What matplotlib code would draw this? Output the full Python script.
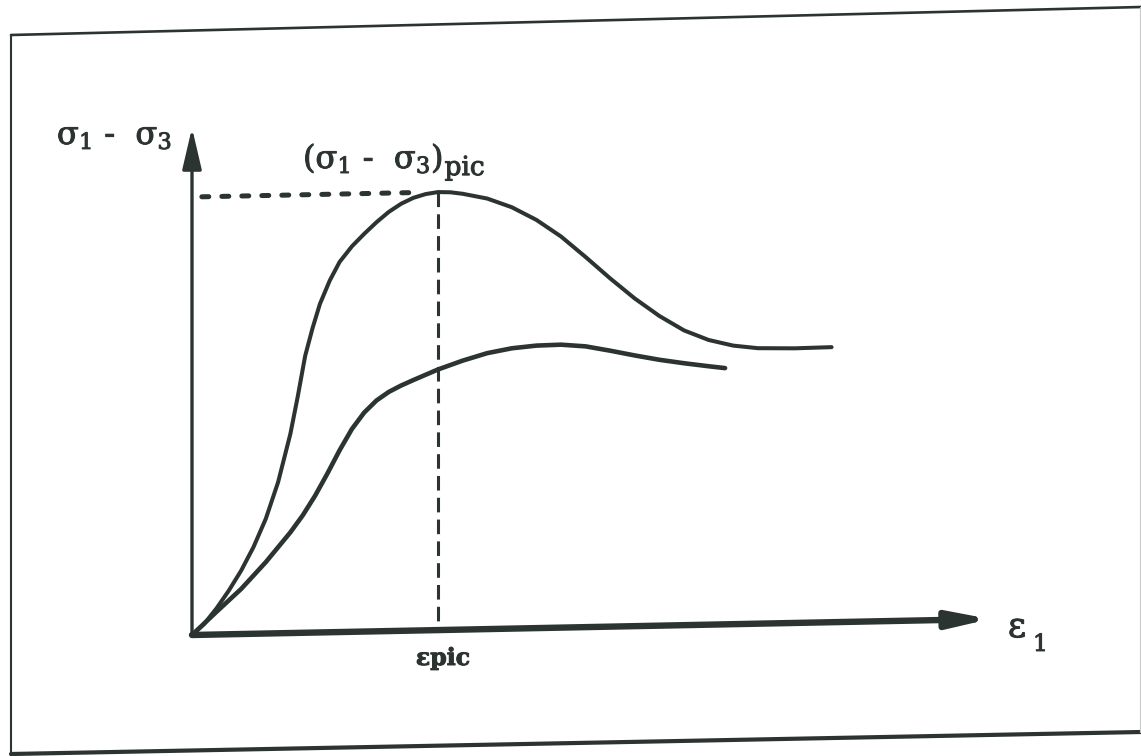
import numpy as np
import matplotlib
matplotlib.use("Agg")
import matplotlib.pyplot as plt
import matplotlib.patheffects as pe
from matplotlib.transforms import Affine2D
from matplotlib.lines import Line2D

plt.rcParams["font.family"] = ["DejaVu Serif"]
plt.rcParams["mathtext.fontset"] = "dejavuserif"
plt.rcParams["lines.scale_dashes"] = False

# Normalised axial strain (eps1 / eps_pic) and deviator stress (q / q_pic)
# Dense sample: marked peak, then softening to a residual plateau
strain_dense = [0.00, 0.05, 0.10, 0.15, 0.20, 0.25, 0.30, 0.35, 0.40, 0.43,
                0.46, 0.49, 0.52, 0.56, 0.60, 0.65, 0.70, 0.75, 0.80, 0.85,
                0.90, 0.95, 1.00, 1.05, 1.10, 1.20, 1.30, 1.40, 1.50, 1.60,
                1.70, 1.80, 1.90, 2.00, 2.10, 2.20, 2.30, 2.45, 2.60]
stress_dense = [0.000, 0.025, 0.060, 0.100, 0.145, 0.198, 0.262, 0.345, 0.455, 0.540,
                0.632, 0.695, 0.750, 0.803, 0.845, 0.880, 0.908, 0.934, 0.957, 0.975,
                0.988, 0.996, 1.000, 0.999, 0.995, 0.983, 0.962, 0.932, 0.893, 0.845,
                0.795, 0.748, 0.707, 0.673, 0.650, 0.636, 0.629, 0.627, 0.628]

# Loose sample: gradual hardening, no marked peak
strain_loose = [0.00, 0.10, 0.20, 0.30, 0.40, 0.45, 0.50, 0.55, 0.60, 0.65,
                0.70, 0.75, 0.80, 0.85, 0.90, 1.00, 1.10, 1.20, 1.30, 1.40,
                1.50, 1.60, 1.70, 1.80, 1.90, 2.00, 2.10, 2.167]
stress_loose = [0.000, 0.052, 0.103, 0.163, 0.230, 0.268, 0.312, 0.362, 0.415, 0.463,
                0.500, 0.527, 0.546, 0.560, 0.572, 0.595, 0.614, 0.630, 0.640, 0.645,
                0.646, 0.641, 0.630, 0.618, 0.607, 0.598, 0.590, 0.585]

eps_pic = 1.0
q_pic = 1.0
eps_axis_end = 3.244
q_axis_end = 1.158

INK = "#2c3431"
W, H = 1141, 756
DPI = 100

fig = plt.figure(figsize=(W / DPI, H / DPI), dpi=DPI)
fig.patch.set_facecolor("white")

# scale of the drawing: pixels per unit of normalised strain / stress
ox, oy = 192, 635
sx, sy = 246.0, 438.0
ax = fig.add_axes([0, 0, 1, 1])
ax.set_xlim(-ox / sx, (W - ox) / sx)
ax.set_ylim(-(H - oy) / sy, oy / sy)
ax.axis("off")

# the sheet is slightly skewed: horizontals rise towards the right
skew = Affine2D().skew(0, np.arctan(0.02 * sx / sy)) + ax.transData

# axes with arrow heads
ax.annotate("", xy=(0, q_axis_end), xytext=(0, 0), xycoords=skew, textcoords=skew,
            arrowprops=dict(arrowstyle="-|>,head_length=1.8,head_width=0.42",
                            mutation_scale=14, lw=2.4, color=INK,
                            shrinkA=0, shrinkB=0))
ax.annotate("", xy=(eps_axis_end, 0), xytext=(0, 0), xycoords=skew, textcoords=skew,
            arrowprops=dict(arrowstyle="-|>,head_length=1.7,head_width=0.36",
                            mutation_scale=14, lw=4.6, color=INK,
                            shrinkA=0, shrinkB=0))

# stress-strain curves
ax.plot(strain_dense, stress_dense, transform=skew, color=INK, lw=2.9,
        solid_capstyle="round", solid_joinstyle="round")
ax.plot(strain_loose, stress_loose, transform=skew, color=INK, lw=3.3,
        solid_capstyle="round", solid_joinstyle="round")

# peak construction lines
ax.plot([0.04, eps_pic * 0.92], [q_pic, q_pic], transform=skew, color=INK, lw=3.6,
        dashes=(5.0, 9.4), dash_capstyle="round")
ax.plot([eps_pic, eps_pic], [q_pic, 0], transform=skew, color=INK, lw=2.2,
        dashes=(10.5, 5.2), dash_capstyle="butt")


# text
def px(x, y):
    return x / W, 1 - y / H


heavy = [pe.withStroke(linewidth=0.7, foreground=INK)]

fig.text(*px(57, 144), "σ$_1$ -  σ$_3$", fontsize=23, color=INK,
         va="baseline", ha="left", path_effects=heavy)
peak = fig.text(*px(303, 168), "(σ$_1$ -  σ$_3$)", fontsize=23, color=INK,
                va="baseline", ha="left", path_effects=heavy)
fig.text(*px(443, 665), "εpic", fontsize=17, fontweight="bold", color=INK,
         va="baseline", ha="center", path_effects=heavy)
eps = fig.text(*px(1008, 637), "ε", fontsize=25, color=INK,
               va="baseline", ha="left", path_effects=heavy)

fig.canvas.draw()
ax.annotate("pic", xy=(1, 0), xycoords=peak, xytext=(1, 0),
            textcoords="offset points", fontsize=19, color=INK,
            va="baseline", ha="left", path_effects=heavy)
ax.annotate("1", xy=(1, 0), xycoords=eps, xytext=(5, -5),
            textcoords="offset points", fontsize=17, color=INK,
            va="baseline", ha="left", path_effects=heavy)

# frame around the figure
frame = [((11, 35), (1141, 7), 1.9, INK),
         ((11, 35), (11, 756), 1.5, INK),
         ((11, 754), (1141, 732), 3.0, INK),
         ((1140, 7), (1140, 732), 0.8, "#c8c8c8")]
for (x0, y0), (x1, y1), lw, c in frame:
    fig.add_artist(Line2D([x0 / W, x1 / W], [1 - y0 / H, 1 - y1 / H],
                          transform=fig.transFigure, lw=lw, color=c,
                          solid_capstyle="round"))

fig.savefig("out.png", dpi=DPI, facecolor="white")
